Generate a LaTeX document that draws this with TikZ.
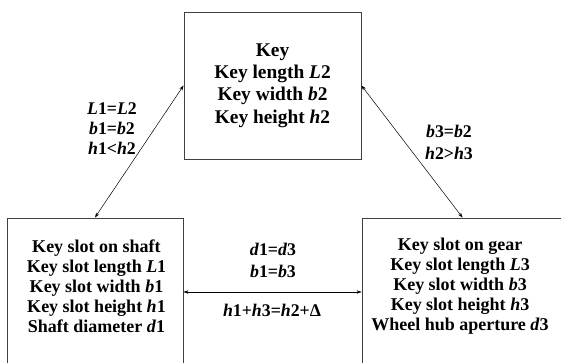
\documentclass[tikz,border=0pt]{standalone}
\usepackage{fontspec}
\setmainfont{Liberation Serif}
\usetikzlibrary{arrows.meta,calc}
\begin{document}
\begin{tikzpicture}[x=1pt,y=-1pt,
  box/.style={draw=black!75,line width=0.9pt,rectangle,inner sep=0pt},
  txt/.style={align=center,font=\fontsize{18}{20}\selectfont\bfseries,inner sep=0pt},
  toptxt/.style={txt,font=\fontsize{19.4}{22.3}\selectfont\bfseries},
  lbl/.style={align=center,font=\fontsize{17.8}{20}\selectfont\bfseries,inner sep=0pt},
  link/.style={{Stealth[length=5pt,width=3.5pt]}-{Stealth[length=5pt,width=3.5pt]},line width=0.5pt}]
\useasboundingbox[fill=white] (0,0) rectangle (561,363);
% the three parts
\node[box,minimum width=177pt,minimum height=147pt] (key) at (272.5,85.5) {};
\node[box,minimum width=176pt,minimum height=148pt] (shaft) at (95,292) {};
\node[box,minimum width=258pt,minimum height=148pt] (gear) at (491,292) {};
\coordinate (gearin) at ($(gear.north west)+(101,0)$);
% their contents
\node[toptxt] (keytxt) at (272.5,85.5) {Key\\Key length \textit{L}2\\Key width \textit{b}2\\Key height \textit{h}2};
\node[txt] (shafttxt) at (96.5,286.5) {Key slot on shaft\\Key slot length \textit{L}1\\Key slot width \textit{b}1\\Key slot height \textit{h}1\\Shaft diameter \textit{d}1};
\node[txt] (geartxt) at (460,286.5) {Key slot on gear\\Key slot length \textit{L}3\\Key slot width \textit{b}3\\Key slot height \textit{h}3\\Wheel hub aperture \textit{d}3};
% relations
\draw[link] (key.west) -- (shaft.north);
\draw[link] (key.east) -- (gearin);
\draw[link] (shaft.east) -- (gear.west);
\node[lbl] (rel1) at (112,128.5) {\textit{L}1=\textit{L}2\\\textit{b}1=\textit{b}2\\\textit{h}1<\textit{h}2};
\node[lbl] (rel2) at (449,142) {\textit{b}3=\textit{b}2\\[2pt]\textit{h}2>\textit{h}3};
\node[lbl] (rel3) at (273,260.5) {\textit{d}1=\textit{d}3\\[2pt]\textit{b}1=\textit{b}3};
\node[lbl] (rel4) at (272,310) {\textit{h}1+\textit{h}3=\textit{h}2+Δ};
\end{tikzpicture}
\end{document}
